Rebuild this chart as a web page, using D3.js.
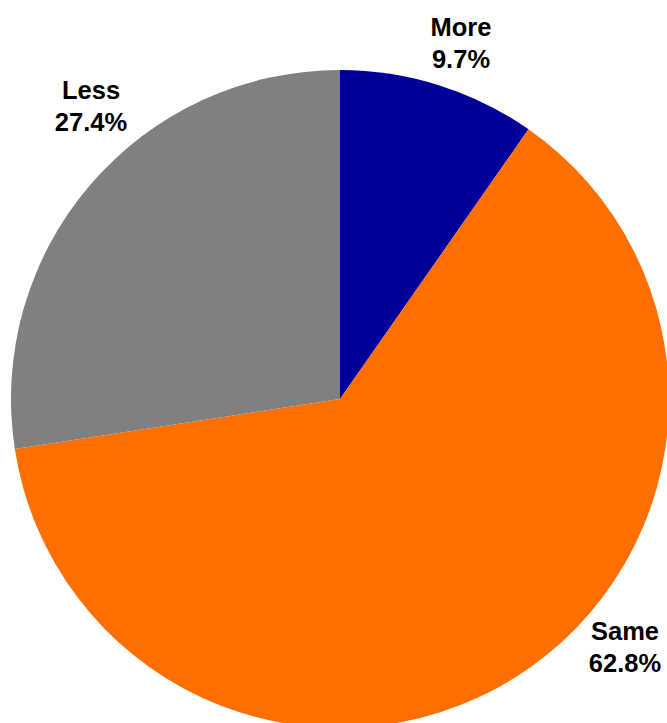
<!DOCTYPE html>
<html>
<head>
<meta charset="utf-8">
<script src="https://cdn.jsdelivr.net/npm/d3@7"></script>
<style>
html,body{margin:0;padding:0;background:#fff;}
svg{display:block;}
</style>
</head>
<body>
<script>
const categories = ["More", "Same", "Less"];
const values = [9.7, 62.8, 27.4];
const labels = ["9.7%", "62.8%", "27.4%"];
const colors = ["#000099", "#FF6F00", "#808080"];

const W = 667, H = 723;
const cx = 340, cy = 399, R = 329;
// label anchor points (center of two-line label block)
const labelPos = [[461, 43], [625, 647], [91, 106]];

const svg = d3.select("body").append("svg").attr("width", W).attr("height", H);
const g = svg.append("g").attr("transform", `translate(${cx},${cy})`);

const data = categories.map((c, i) => ({cat: c, value: values[i], label: labels[i], color: colors[i]}));
const pie = d3.pie().sort(null).value(d => d.value);
const arc = d3.arc().innerRadius(0).outerRadius(R);

g.selectAll("path").data(pie(data)).enter().append("path")
  .attr("d", arc)
  .attr("fill", d => d.data.color);

const lab = svg.selectAll("text.lab").data(data).enter().append("text")
  .attr("class", "lab")
  .attr("text-anchor", "middle")
  .attr("font-family", "Liberation Sans, Arial, sans-serif")
  .attr("font-weight", "bold")
  .attr("font-size", 25.5)
  .attr("fill", "#000");
lab.append("tspan").attr("x", (d, i) => labelPos[i][0]).attr("y", (d, i) => labelPos[i][1] - 7).text(d => d.cat);
lab.append("tspan").attr("x", (d, i) => labelPos[i][0]).attr("y", (d, i) => labelPos[i][1] + 25).text(d => d.label);
</script>
</body>
</html>
